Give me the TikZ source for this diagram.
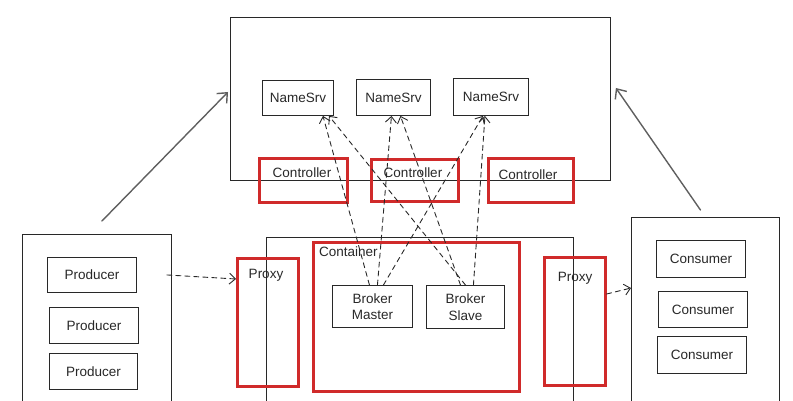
\documentclass[tikz,border=0pt]{standalone}
\usepackage{fontspec}
\setmainfont{Liberation Sans}
\usetikzlibrary{arrows.meta}
\usetikzlibrary{calc}

\definecolor{boxred}{RGB}{208,42,42}
\definecolor{ink}{RGB}{40,40,40}
\definecolor{arrowgray}{RGB}{95,95,95}

\begin{document}
\begin{tikzpicture}[x=1pt, y=-1pt, line cap=round,
    box/.style={draw=ink, line width=0.9pt, anchor=north west, inner sep=0pt, text=ink,
        font=\fontsize{13.5}{16.5}\selectfont, align=center},
    redbox/.style={draw=boxred, line width=2.6pt, anchor=north west, inner sep=0pt},
    lbl/.style={text=ink, font=\fontsize{13.5}{16.5}\selectfont, inner sep=0pt},
    dasharrow/.style={ink, line width=0.9pt, dash pattern=on 5pt off 4pt,
        -{Straight Barb[length=6pt, width=11pt]}},
    bigarrow/.style={arrowgray, line width=1.4pt, -{Straight Barb[length=8pt, width=14pt]}}]

    \useasboundingbox (0,0) rectangle (793,401);
    \clip (0,0) rectangle (793,401);

    % name servers
    \node[box, minimum width=380, minimum height=163] (topbox) at (230,17) {};
    \node[box, minimum width=71, minimum height=35] (ns1) at (262,80) {NameSrv};
    \node[box, minimum width=74, minimum height=36] (ns2) at (356,79) {NameSrv};
    \node[box, minimum width=75, minimum height=37] (ns3) at (453,78) {NameSrv};

    \node[redbox, minimum width=88, minimum height=44] (ctrl1) at (258,157) {};
    \node[redbox, minimum width=87, minimum height=42] (ctrl2) at (370,158) {};
    \node[redbox, minimum width=85, minimum height=44] (ctrl3) at (487,157) {};
    \node[lbl] (ctrl1txt) at (302,173) {Controller};
    \node[lbl] (ctrl2txt) at (413,173) {Controller};
    \node[lbl] (ctrl3txt) at (528,175) {Controller};

    % broker side
    \node[box, minimum width=307, minimum height=190] (brkgrp) at (266,237) {};
    \node[redbox, minimum width=206, minimum height=149] (container) at (312,241) {};
    \node[lbl, anchor=west] (containertxt) at (319,252) {Container};
    \node[redbox, minimum width=61, minimum height=128] (proxyL) at (236,257) {};
    \node[redbox, minimum width=61, minimum height=128] (proxyR) at (543,256) {};
    \node[lbl] (proxyLtxt) at (266,275) {Proxy};
    \node[lbl] (proxyRtxt) at (575,278) {Proxy};
    \node[box, minimum width=80, minimum height=42] (master) at (332,285) {Broker\\Master};
    \node[box, minimum width=78, minimum height=43] (slave) at (426,285) {Broker\\Slave};

    % producers
    \node[box, minimum width=149, minimum height=190] (prodgrp) at (22,234) {};
    \node[box, minimum width=89, minimum height=35] (prod1) at (47,257) {Producer};
    \node[box, minimum width=89, minimum height=36] (prod2) at (49,307) {Producer};
    \node[box, minimum width=88, minimum height=36] (prod3) at (49,353) {Producer};

    % consumers
    \node[box, minimum width=148, minimum height=200] (congrp) at (631,217) {};
    \node[box, minimum width=89, minimum height=37] (con1) at (656,240) {Consumer};
    \node[box, minimum width=89, minimum height=36] (con2) at (658,291) {Consumer};
    \node[box, minimum width=89, minimum height=37] (con3) at (657,336) {Consumer};

    % registration
    \draw[dasharrow] ([xshift=-3pt]master.north) -- ([xshift=25pt]ns1.south);
    \draw[dasharrow] ([xshift=5pt]master.north) -- ([xshift=-2pt]ns2.south);
    \draw[dasharrow] ([xshift=11pt]master.north) -- ([xshift=-8pt]ns3.south);
    \draw[dasharrow] (slave.north) -- ([xshift=31pt]ns1.south);
    \draw[dasharrow] ([xshift=-5pt]slave.north) -- ([xshift=7pt]ns2.south);
    \draw[dasharrow] ([xshift=8pt]slave.north) -- ([xshift=-6pt]ns3.south);

    \draw[dasharrow] ($(prodgrp.east |- prod1.east)+(-5,0)$) -- ($(proxyL.north west)+(0,22)$);
    \draw[dasharrow] ($(proxyR.north east)+(0,38)$) -- ($(congrp.north west)+(0,71)$);

    \draw[bigarrow] ($(prodgrp.north)+(5,-13)$) -- ($(topbox.north west)+(-2,75)$);
    \draw[bigarrow] ($(congrp.north)+(-5,-7)$) -- ($(topbox.north east)+(5,71)$);

\end{tikzpicture}
\end{document}
